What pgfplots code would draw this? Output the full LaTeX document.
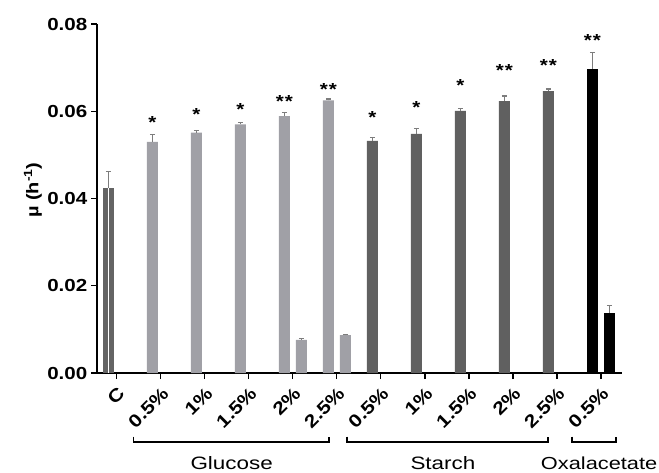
\documentclass[border=0pt]{standalone}
\usepackage{fontspec}
\setmainfont{Liberation Sans}[FakeStretch=1.25]
\newfontfamily\lsb{Liberation Sans Bold}[FakeStretch=1.18]
\usepackage{pgfplots}
\pgfplotsset{compat=1.18}
\definecolor{cdark}{RGB}{100,100,100}
\definecolor{glu}{RGB}{160,160,166}
\definecolor{sta}{RGB}{96,96,96}
\definecolor{errc}{RGB}{125,125,125}
\pgfplotsset{
  mybar/.style={ybar, bar width=11bp, bar shift=0pt, draw=none,
    error bars/y dir=plus, error bars/y explicit,
    error bars/error bar style={errc, line width=1.2bp},
    error bars/error mark options={rotate=90, errc, mark size=2.5bp, line width=1.2bp}},
  stars/.style={only marks, mark=none, nodes near coords={#1},
    nodes near coords style={anchor=center, inner sep=0pt,
      font=\fontsize{17.5}{19}\lsb}}
}
\begin{document}
\begin{tikzpicture}
\begin{axis}[name=ax, scale only axis, width=525bp, height=349bp,
  xmin=-0.45, xmax=11.48, ymin=0, ymax=0.08,
  axis lines=left, axis line style={-, line width=1.4bp},
  tick style={line width=1.3bp, black}, tick align=outside, major tick length=6bp,
  minor tick num=0,
  xtick={0,...,11},
  xticklabels={C,0.5\%,1\%,1.5\%,2\%,2.5\%,0.5\%,1\%,1.5\%,2\%,2.5\%,0.5\%},
  x tick label style={xshift=0bp, yshift=-7bp, rotate=45, anchor=north east, inner sep=0pt,
    font=\fontsize{18}{20}\lsb},
  ytick={0,0.02,0.04,0.06,0.08},
  scaled y ticks=false,
  y tick label style={font=\fontsize{17.5}{19}\lsb, inner sep=3.5bp,
    /pgf/number format/.cd, fixed, fixed zerofill, precision=2, assume math mode=true},
  ylabel={\textmu\ (h\textsuperscript{-1})},
  ylabel style={at={(axis description cs:-0.122,0.524)}, anchor=center,
    font=\fontsize{17}{19}\lsb},
  clip=false,
]
% Control
\addplot[mybar, fill=cdark] table[x expr=\thisrow{x}-0.193, y=y, y error=e] {
x y e
0 0.0424 0.0038
};
\addplot[ybar, bar width=1.4bp, bar shift=0pt, fill=white, draw=none] table[x expr=\thisrow{x}-0.193, y=y] {
x y
0 0.0424
};
% Glucose
\addplot[mybar, fill=glu] table[x expr=\thisrow{x}-0.193, y=y, y error=e] {
x y e
1 0.0530 0.0017
2 0.0551 0.0005
3 0.0570 0.0004
4 0.0589 0.0008
5 0.0625 0.0003
};
\addplot[mybar, fill=glu] table[x expr=\thisrow{x}+0.193, y=y, y error=e] {
x y e
4 0.0076 0.0004
5 0.0087 0.0002
};
% Starch
\addplot[mybar, fill=sta] table[x expr=\thisrow{x}-0.193, y=y, y error=e] {
x y e
6 0.0532 0.0007
7 0.0548 0.0013
8 0.0601 0.0005
9 0.0623 0.0012
10 0.0646 0.0005
};
% Oxalacetate
\addplot[mybar, fill=black] table[x expr=\thisrow{x}-0.193, y=y, y error=e] {
x y e
11 0.0697 0.0038
};
\addplot[mybar, fill=black] table[x expr=\thisrow{x}+0.193, y=y, y error=e] {
x y e
11 0.0138 0.0016
};
% significance stars
\addplot[stars={*}] table[x expr=\thisrow{x}-0.193, y=y] {
x y
1 0.0575
2 0.0592
3 0.0603
6 0.0586
7 0.0609
8 0.0658
};
\addplot[stars={*\kern1bp*}] table[x expr=\thisrow{x}-0.193, y=y] {
x y
4 0.0622
5 0.0651
9 0.0694
10 0.0706
11 0.0762
};
% group brackets
\draw[line width=1.4bp] (axis cs:0.386,-0.0146) -- (axis cs:0.386,-0.0158) -- (axis cs:4.818,-0.0158) -- (axis cs:4.818,-0.0146);
\draw[line width=1.4bp] (axis cs:5.227,-0.0146) -- (axis cs:5.227,-0.0158) -- (axis cs:9.795,-0.0158) -- (axis cs:9.795,-0.0146);
\draw[line width=1.4bp] (axis cs:10.34,-0.0146) -- (axis cs:10.34,-0.0158) -- (axis cs:11.34,-0.0158) -- (axis cs:11.34,-0.0146);
\node[anchor=base, font=\fontsize{18}{20}\selectfont] at (axis cs:2.61,-0.0221) {Glucose};
\node[anchor=base, font=\fontsize{18}{20}\selectfont] at (axis cs:7.41,-0.0221) {Starch};
\node[anchor=base, font=\fontsize{17.5}{20}\selectfont] at (axis cs:10.96,-0.0221) {Oxalacetate};
\end{axis}
\pgfresetboundingbox
\path ([shift={(-97bp,-100bp)}]ax.south west) rectangle ([shift={(37bp,24bp)}]ax.north east);
\end{tikzpicture}
\end{document}
